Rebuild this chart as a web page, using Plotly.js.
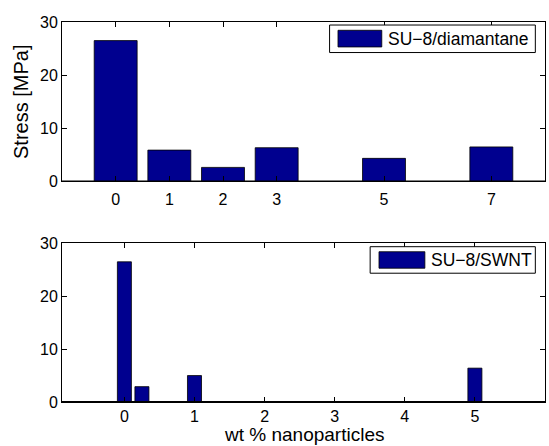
<!DOCTYPE html>
<html>
<head>
<meta charset="utf-8">
<script src="https://cdn.plot.ly/plotly-3.0.1.min.js"></script>
<style>html,body{margin:0;padding:0;background:#fff;}#chart{width:549px;height:446px;}</style>
</head>
<body>
<div id="chart"></div>
<script>
// ---- data ----
const diamWt = [0, 1, 2, 3, 5, 7];
const diamStress = [26.5, 5.9, 2.65, 6.35, 4.35, 6.5];
const swntWt = [0, 0.25, 1, 5];
const swntStress = [26.5, 2.9, 5.0, 6.4];
const yTickVals = [0, 10, 20, 30];
const topXTicks = [0, 1, 2, 3, 5, 7];
const bottomXTicks = [0, 1, 2, 3, 4, 5, 6];
const topLegendLabel = 'SU\u22128/diamantane';
const bottomLegendLabel = 'SU\u22128/SWNT';
const yTitle = 'Stress [MPa]';
const xTitle = 'wt % nanoparticles';

const barColor = '#00008F';
const FONT = 'Liberation Sans, Arial, Helvetica, sans-serif';

const traces = [
  {type: 'bar', x: diamWt, y: diamStress, width: 0.8, xaxis: 'x', yaxis: 'y',
   marker: {color: barColor, line: {color: '#000', width: 0.8}}, showlegend: false, hoverinfo: 'skip'},
  {type: 'bar', x: swntWt, y: swntStress, width: 0.2, xaxis: 'x2', yaxis: 'y2',
   marker: {color: barColor, line: {color: '#000', width: 0.8}}, showlegend: false, hoverinfo: 'skip'}
];

const axBase = {
  showline: true, linecolor: '#000', linewidth: 1, mirror: 'ticks',
  ticks: 'inside', ticklen: 5, tickcolor: '#000', tickwidth: 1,
  showgrid: false, zeroline: false,
  tickfont: {family: FONT, size: 16, color: '#000'}
};

function legendShapes(xa, ya, box, sw) {
  return [
    {type: 'rect', xref: xa + ' domain', yref: ya + ' domain', x0: box[0], x1: box[1], y0: box[2], y1: box[3],
     line: {color: '#000', width: 1}, fillcolor: '#fff', layer: 'above'},
    {type: 'rect', xref: xa + ' domain', yref: ya + ' domain', x0: sw[0], x1: sw[1], y0: sw[2], y1: sw[3],
     line: {color: '#000', width: 0.8}, fillcolor: barColor, layer: 'above'}
  ];
}

const layout = {
  width: 549, height: 446,
  margin: {l: 62, r: 4, t: 22, b: 44},
  paper_bgcolor: '#fff', plot_bgcolor: '#fff',
  font: {family: FONT, color: '#000'},
  showlegend: false,
  bargap: 0,
  xaxis: Object.assign({}, axBase, {domain: [0, 1], anchor: 'y', range: [-1, 8], ticklabelstandoff: 3,
    tickmode: 'array', tickvals: topXTicks, ticktext: topXTicks.map(String)}),
  yaxis: Object.assign({}, axBase, {domain: [0.5803, 1], anchor: 'x', range: [0, 30],
    tickmode: 'array', tickvals: yTickVals, ticktext: yTickVals.map(String),
    title: {text: yTitle, font: {family: FONT, size: 20, color: '#000'}, standoff: 5}}),
  xaxis2: Object.assign({}, axBase, {domain: [0, 1], anchor: 'y2', range: [-0.89, 6], ticklabelstandoff: 0,
    tickmode: 'array', tickvals: bottomXTicks, ticktext: bottomXTicks.map(String)}),
  yaxis2: Object.assign({}, axBase, {domain: [0, 0.4176], anchor: 'x2', range: [0, 30],
    tickmode: 'array', tickvals: yTickVals, ticktext: yTickVals.map(String)}),
  shapes: [
    {type: 'line', xref: 'x domain', yref: 'y', x0: 0, x1: 1, y0: 0, y1: 0, line: {color: '#000', width: 2}},
    {type: 'line', xref: 'x2 domain', yref: 'y2', x0: 0, x1: 1, y0: 0, y1: 0, line: {color: '#000', width: 2}}
  ].concat(
    legendShapes('x', 'y', [0.554, 0.980, 0.8085, 0.981], [0.5714, 0.6621, 0.8435, 0.948]),
    legendShapes('x2', 'y2', [0.638, 0.980, 0.8116, 0.9787], [0.6563, 0.7513, 0.843, 0.947])
  ),
  annotations: [
    {xref: 'x domain', yref: 'y domain', x: 0.6708, y: 0.895, xanchor: 'left', yanchor: 'middle',
     text: topLegendLabel, showarrow: false, font: {family: FONT, size: 17.5, color: '#000'}},
    {xref: 'x2 domain', yref: 'y2 domain', x: 0.7598, y: 0.895, xanchor: 'left', yanchor: 'middle',
     text: bottomLegendLabel, showarrow: false, font: {family: FONT, size: 17.5, color: '#000'}},
    {xref: 'x2 domain', yref: 'paper', x: 0.5, y: -0.1145, xanchor: 'center', yanchor: 'bottom',
     borderpad: 0, text: xTitle, showarrow: false, font: {family: FONT, size: 19, color: '#000'}}
  ]
};

Plotly.newPlot('chart', traces, layout, {staticPlot: true, displayModeBar: false});
</script>
</body>
</html>
